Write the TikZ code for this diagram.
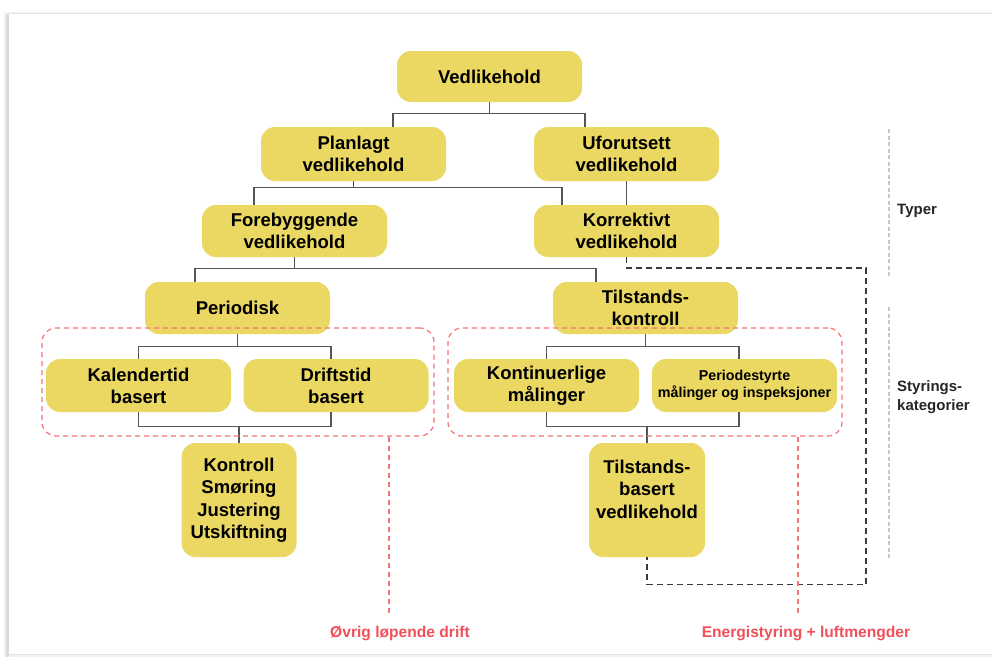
\documentclass[tikz,border=0pt]{standalone}
\usepackage{fontspec}
\setmainfont{Liberation Sans}
\usetikzlibrary{calc}
\definecolor{boxfill}{HTML}{EAD862}
\definecolor{linegray}{HTML}{555555}
\definecolor{grpred}{HTML}{F47478}
\definecolor{labred}{HTML}{F0505A}
\definecolor{sepblue}{HTML}{B9CDD6}
\definecolor{dashgray}{HTML}{3A3A3A}
\tikzset{
  card/.style={rounded corners=14pt, fill=boxfill, draw=none, inner sep=0pt,
    align=center, font=\fontsize{18.5}{22}\selectfont\bfseries},
  wide/.style={card, minimum width=185pt, minimum height=52pt},
  tall/.style={card, minimum width=116pt, minimum height=114pt},
  plaintext/.style={inner sep=0pt, align=center, font=\fontsize{18.5}{22.5}\selectfont\bfseries},
  conn/.style={draw=linegray, line width=1.1pt},
  grp/.style={draw=grpred, line width=1.2pt, dash pattern=on 5pt off 4pt,
    rounded corners=14pt, minimum width=392pt, minimum height=108pt, inner sep=0pt},
  grpline/.style={draw=grpred, line width=1.2pt, dash pattern=on 5pt off 4pt},
  loop/.style={draw=dashgray, line width=1.2pt, dash pattern=on 6pt off 4pt},
  sep/.style={draw=sepblue, line width=1.3pt, dash pattern=on 4pt off 2.5pt},
  redlab/.style={text=labred, font=\fontsize{15.6}{18}\selectfont\bfseries, inner sep=0pt},
  sidelab/.style={text=black!85, font=\fontsize{15}{19}\selectfont\bfseries, inner sep=0pt, align=left, anchor=west},
}
\begin{document}
\begin{tikzpicture}[x=1pt,y=-1pt]
% page and card
\useasboundingbox (0,0) rectangle (992,657);
\fill[white] (0,0) rectangle (992,657);
\fill[black!5] (4,12) rectangle (992,657);
\fill[black!14] (6,14) rectangle (9,657);
\fill[white] (9,14) rectangle (992,654);
\draw[black!10, line width=0.8pt] (9,13.5) -- (992,13.5);
\draw[black!10, line width=0.8pt] (9,654.5) -- (992,654.5);

% boxes
\node[wide, minimum height=51pt] (v) at (489.5,76.5) {Vedlikehold};
\node[wide, minimum height=54pt] (plan) at (353.5,154) {Planlagt\\vedlikehold};
\node[wide, minimum height=54pt] (ufor) at (626.5,154) {Uforutsett\\vedlikehold};
\node[wide] (fore) at (294.5,231) {Forebyggende\\vedlikehold};
\node[wide] (korr) at (626.5,231) {Korrektivt\\vedlikehold};
\node[wide] (per) at (237.5,308) {Periodisk};
\node[wide] (tilk) at (645.5,308) {Tilstands-\\kontroll};
\node[wide, minimum height=53pt] (kal) at (138.5,385.5) {Kalendertid\\basert};
\node[wide, minimum height=53pt] (drift) at (336,385.5) {Driftstid\\basert};
\node[wide, minimum height=53pt] (kont) at (546.5,385.5) {Kontinuerlige\\målinger};
\node[wide, minimum height=53pt, font=\fontsize{14.3}{17.5}\selectfont\bfseries] (pstyr) at (744.5,385.5) {Periodestyrte\\målinger og inspeksjoner};
\node[tall, minimum width=115pt, font=\fontsize{18.5}{22.5}\selectfont\bfseries] (ktr) at (239,500) {Kontroll\\Smøring\\Justering\\Utskiftning};
\node[tall] (tbas) at (647,500) {};
\node[plaintext] (tbastxt) at (647,489) {Tilstands-\\basert\\vedlikehold};

% tree connectors
\draw[conn] (v.south) -- ++(0,11) coordinate (b1);
\draw[conn] ([xshift=39.5pt]plan.north) |- (b1) -| ([xshift=-41.5pt]ufor.north);
\draw[conn] (plan.south) -- ++(0,6) coordinate (b2);
\draw[conn] ([xshift=-40.5pt]fore.north) |- (b2) -| ([xshift=-64.5pt]korr.north);
\draw[conn] (ufor.south) -- (korr.north);
\draw[conn] (fore.south) -- ++(0,11) coordinate (b3);
\draw[conn] ([xshift=-42.5pt]per.north) |- (b3) -| ([xshift=-49.5pt]tilk.north);
\draw[conn] (per.south) -- ++(0,12) coordinate (b4);
\draw[conn] (kal.north) |- (b4) -| ([xshift=-5pt]drift.north);
\draw[conn] (kal.south) |- ([yshift=-14pt]ktr.north |- kal.south) coordinate (b5) -| ([xshift=-5pt]drift.south);
\draw[conn] (b5) -- (ktr.north);
\draw[conn] (tilk.south) -- ++(0,12) coordinate (b6);
\draw[conn] (kont.north) |- (b6) -| ([xshift=-5.5pt]pstyr.north);
\draw[conn] (kont.south) |- ([yshift=-14pt]tbas.north |- kont.south) coordinate (b7) -| ([xshift=-5.5pt]pstyr.south);
\draw[conn] (b7) -- (tbas.north);

% corrective feedback loop
\coordinate (lp) at (866,268);
\draw[loop] (korr.south) |- (lp) |- ([yshift=-27pt]tbas.south) -- (tbas.south);

% control category groups
\node[grp] (g1) at (238,382) {};
\node[grp, minimum width=394pt] (g2) at (645,382) {};
\node[redlab] (l1) at (400,633) {Øvrig løpende drift};
\node[redlab] (l2) at (806,633) {Energistyring + luftmengder};
\draw[grpline] ([xshift=151pt]g1.south) -- ++(0,177);
\draw[grpline] ([xshift=153pt]g2.south) -- ++(0,177);

% level separators and labels
\draw[sep] (889,129) -- (889,277);
\draw[sep] (889,307) -- (889,558);
\node[sidelab] (t1) at (897,211) {Typer};
\node[sidelab] (t2) at (897,397) {Styrings-\\kategorier};
\end{tikzpicture}
\end{document}
